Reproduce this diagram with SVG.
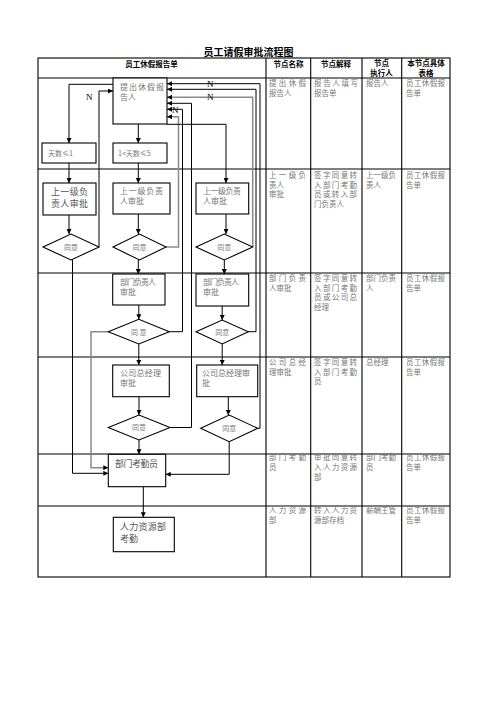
<svg xmlns="http://www.w3.org/2000/svg" width="496" height="702" viewBox="0 0 496 702">
<style>
.bg{fill:#fff}
.grid{stroke:#000;stroke-width:1.1;fill:none}
.box{fill:#fff;stroke:#000;stroke-width:1.1}
.ln{stroke:#000;stroke-width:1;fill:none}
.gl{stroke:#8a8a8a;stroke-width:1.5;fill:none}
.ttl{font-family:"Noto Sans CJK SC",sans-serif;font-weight:bold;font-size:10px;fill:#000}
.hd{font-family:"Noto Sans CJK SC",sans-serif;font-weight:bold;font-size:7.5px;fill:#000}
.t{font-family:"Noto Sans CJK SC",sans-serif;font-size:7.5px;fill:#777}
.f{font-family:"Noto Sans CJK SC",sans-serif;font-size:8px;fill:#777}
.fb{font-family:"Noto Sans CJK SC",sans-serif;font-size:9px;fill:#555}
.n{font-family:"Liberation Serif",serif;font-size:9px;fill:#000}
.c{text-anchor:middle}
</style>
<defs>
<marker id="a" viewBox="0 0 8 8" refX="8" refY="4" markerWidth="5" markerHeight="5" orient="auto" markerUnits="userSpaceOnUse">
<path d="M0,0 L8,4 L0,8 z" fill="#000"/>
</marker>
</defs>
<rect class="bg" x="0" y="0" width="496" height="702"/>
<text class="ttl c" x="248.5" y="56">员工请假审批流程图</text>

<g id="table">
<rect class="grid" x="38" y="58" width="412" height="519"/>
<path class="grid" d="M38,78 H450 M38,169 H450 M38,273 H450 M38,357 H450 M38,454 H450 M38,506 H450 M266,58 V577 M310.7,58 V577 M362,58 V577 M401.7,58 V577"/>
<text class="hd c" x="151.5" y="67">员工休假报告单</text>
<text class="hd c" x="288.5" y="67">节点名称</text>
<text class="hd c" x="336" y="67">节点解释</text>
<text class="hd c" x="381.5" y="66">节点</text>
<text class="hd c" x="381.5" y="75.5">执行人</text>
<text class="hd c" x="426" y="66">本节点具体</text>
<text class="hd c" x="426" y="75.5">表格</text>

<text class="t" x="269" y="86" textLength="37" lengthAdjust="spacing">提出休假</text>
<text class="t" x="269" y="96">报告人</text>
<text class="t" x="314" y="86" textLength="44" lengthAdjust="spacing">报告人填写</text>
<text class="t" x="314" y="96">报告单</text>
<text class="t" x="366" y="86">报告人</text>
<text class="t" x="406" y="86" textLength="39" lengthAdjust="spacing">员工休假报</text>
<text class="t" x="406" y="96">告单</text>

<text class="t" x="269" y="178" textLength="37" lengthAdjust="spacing">上一级负</text>
<text class="t" x="269" y="187.5">责人</text>
<text class="t" x="269" y="197">审批</text>
<text class="t" x="314" y="178" textLength="43" lengthAdjust="spacing">签字同意转</text>
<text class="t" x="314" y="187.5" textLength="43" lengthAdjust="spacing">入部门考勤</text>
<text class="t" x="314" y="197" textLength="43" lengthAdjust="spacing">员或转入部</text>
<text class="t" x="314" y="206.5">门负责人</text>
<text class="t" x="366" y="178" textLength="30" lengthAdjust="spacing">上一级负</text>
<text class="t" x="366" y="187.5">责人</text>
<text class="t" x="406" y="178" textLength="39" lengthAdjust="spacing">员工休假报</text>
<text class="t" x="406" y="187.5">告单</text>

<text class="t" x="269" y="280.5" textLength="37" lengthAdjust="spacing">部门负责</text>
<text class="t" x="269" y="290.5">人审批</text>
<text class="t" x="314" y="280.5" textLength="43" lengthAdjust="spacing">签字同意转</text>
<text class="t" x="314" y="290.5" textLength="43" lengthAdjust="spacing">入部门考勤</text>
<text class="t" x="314" y="300" textLength="43" lengthAdjust="spacing">员或公司总</text>
<text class="t" x="314" y="309.5">经理</text>
<text class="t" x="366" y="280.5" textLength="30" lengthAdjust="spacing">部门负责</text>
<text class="t" x="366" y="290.5">人</text>
<text class="t" x="406" y="280.5" textLength="39" lengthAdjust="spacing">员工休假报</text>
<text class="t" x="406" y="290.5">告单</text>

<text class="t" x="269" y="364.5" textLength="37" lengthAdjust="spacing">公司总经</text>
<text class="t" x="269" y="374.5">理审批</text>
<text class="t" x="314" y="364.5" textLength="43" lengthAdjust="spacing">签字同意转</text>
<text class="t" x="314" y="374.5" textLength="43" lengthAdjust="spacing">入部门考勤</text>
<text class="t" x="314" y="384">员</text>
<text class="t" x="366" y="364.5">总经理</text>
<text class="t" x="406" y="364.5" textLength="39" lengthAdjust="spacing">员工休假报</text>
<text class="t" x="406" y="374.5">告单</text>

<text class="t" x="269" y="459.5" textLength="37" lengthAdjust="spacing">部门考勤</text>
<text class="t" x="269" y="469.5">员</text>
<text class="t" x="314" y="459.5" textLength="43" lengthAdjust="spacing">审批同意转</text>
<text class="t" x="314" y="469.5" textLength="43" lengthAdjust="spacing">入人力资源</text>
<text class="t" x="314" y="479.5">部</text>
<text class="t" x="366" y="459.5" textLength="30" lengthAdjust="spacing">部门考勤</text>
<text class="t" x="366" y="469.5">员</text>
<text class="t" x="406" y="459.5" textLength="39" lengthAdjust="spacing">员工休假报</text>
<text class="t" x="406" y="469.5">告单</text>

<text class="t" x="269" y="513" textLength="37" lengthAdjust="spacing">人力资源</text>
<text class="t" x="269" y="523">部</text>
<text class="t" x="314" y="513" textLength="43" lengthAdjust="spacing">转入人力资</text>
<text class="t" x="314" y="523">源部存档</text>
<text class="t" x="366" y="513">薪酬主管</text>
<text class="t" x="406" y="513" textLength="39" lengthAdjust="spacing">员工休假报</text>
<text class="t" x="406" y="523">告单</text>
</g>

<g id="connectors">
<path class="ln" d="M138.3,124 V143" marker-end="url(#a)"/>
<path class="ln" d="M113,84.3 H69 V143" marker-end="url(#a)"/>
<path class="ln" d="M69,163 V183" marker-end="url(#a)"/>
<path class="ln" d="M69,215 V234" marker-end="url(#a)"/>
<path class="ln" d="M72.5,260 V473.3 H108.3" marker-end="url(#a)"/>
<path class="ln" d="M99,247 V91 H113" marker-end="url(#a)"/>
<path class="ln" d="M138.3,163 V183" marker-end="url(#a)"/>
<path class="ln" d="M138.3,214 V234" marker-end="url(#a)"/>
<path class="ln" d="M138.3,260 V274" marker-end="url(#a)"/>
<path class="gl" d="M166,247 H178.5 V116.7 H167" marker-end="url(#a)"/>
<path class="ln" d="M167,124.3 H226 V183" marker-end="url(#a)"/>
<path class="ln" d="M226,214 V234" marker-end="url(#a)"/>
<path class="ln" d="M224.3,260 V274" marker-end="url(#a)"/>
<path class="gl" d="M252.7,247 V97.3 H167" marker-end="url(#a)"/>
<path class="ln" d="M138.8,305 V319.3" marker-end="url(#a)"/>
<path class="ln" d="M169.3,331.7 H182.5 V109.3 H167" marker-end="url(#a)"/>
<path class="gl" d="M108.3,331.7 H91 V467.7 H108.3" marker-end="url(#a)"/>
<path class="ln" d="M138.8,344 V365" marker-end="url(#a)"/>
<path class="ln" d="M222.2,306 V320" marker-end="url(#a)"/>
<path class="ln" d="M248.3,331.7 H256 V89.3 H167" marker-end="url(#a)"/>
<path class="ln" d="M222.2,344 V365" marker-end="url(#a)"/>
<path class="ln" d="M139,396.7 V415" marker-end="url(#a)"/>
<path class="ln" d="M170,427.5 H191.5 V103.3 H167" marker-end="url(#a)"/>
<path class="ln" d="M139,440 V454.3" marker-end="url(#a)"/>
<path class="ln" d="M228.3,396.7 V415" marker-end="url(#a)"/>
<path class="ln" d="M257.7,428.3 H260 V83.7 H167" marker-end="url(#a)"/>
<path class="ln" d="M229.2,441.7 V474.3 H165.7" marker-end="url(#a)"/>
<path class="ln" d="M143.3,486.7 V517.3" marker-end="url(#a)"/>
<text class="n" x="86" y="100">N</text>
<text class="n" x="207" y="86.7">N</text>
<text class="n" x="207" y="100.3">N</text>
<text class="n" x="172" y="112.5">N</text>
</g>

<g id="n1"><rect class="box" x="113" y="78" width="54" height="46"/>
<text class="f" x="120" y="90" textLength="44" lengthAdjust="spacing">提出休假报</text>
<text class="f" x="120" y="100">告人</text></g>
<g id="n2"><rect class="box" x="42" y="143" width="54" height="20"/>
<text class="f" x="48" y="156" style="font-size:7px">天数≤1</text></g>
<g id="n3"><rect class="box" x="113" y="143" width="54" height="20"/>
<text class="f" x="118" y="156" style="font-size:7px">1&lt;天数≤5</text></g>
<g id="n4"><rect class="box" x="43" y="183" width="53" height="32"/>
<text class="fb" x="51" y="195" textLength="37" lengthAdjust="spacing">上一级负</text>
<text class="fb" x="51" y="206.5" textLength="37" lengthAdjust="spacing">责人审批</text></g>
<g id="n5"><polygon class="box" points="43,247 71,234 99,247 71,260"/>
<text class="f c" x="71" y="250" style="font-size:7px">同意</text></g>
<g id="n6"><rect class="box" x="113" y="183" width="57" height="31"/>
<text class="f" x="120" y="194" textLength="43" lengthAdjust="spacing">上一级负责</text>
<text class="f" x="120" y="204">人审批</text></g>
<g id="n7"><polygon class="box" points="113,247 139.5,234 166,247 139.5,260"/>
<text class="f c" x="139.5" y="250" style="font-size:7px">同意</text></g>
<g id="n8"><rect class="box" x="196" y="183" width="52.7" height="31"/>
<text class="f" x="203" y="194" textLength="38" lengthAdjust="spacing">上一级负责</text>
<text class="f" x="203" y="204">人审批</text></g>
<g id="n9"><polygon class="box" points="196,247 224.3,234 252.7,247 224.3,260"/>
<text class="f c" x="224.3" y="250" style="font-size:7px">同意</text></g>
<g id="n10"><rect class="box" x="112.7" y="274" width="52.3" height="31"/>
<text class="f" x="120" y="284.5" textLength="36" lengthAdjust="spacing">部门负责人</text>
<text class="f" x="120" y="294.5">审批</text></g>
<g id="n11"><polygon class="box" points="108.3,331.7 138.8,319.3 169.3,331.7 138.8,344"/>
<text class="f c" x="138.8" y="334.5" style="font-size:7px">同 意</text></g>
<g id="n12"><rect class="box" x="196" y="274" width="52.7" height="32"/>
<text class="f" x="203" y="284.5" textLength="36" lengthAdjust="spacing">部门负责人</text>
<text class="f" x="203" y="294.5">审批</text></g>
<g id="n13"><polygon class="box" points="196,331.7 222.2,320 248.3,331.7 222.2,344"/>
<text class="f c" x="222.2" y="334.5" style="font-size:7px">同意</text></g>
<g id="n14"><rect class="box" x="112.7" y="365" width="56.6" height="31.7"/>
<text class="f" x="120" y="376" textLength="41" lengthAdjust="spacing">公司总经理</text>
<text class="f" x="120" y="386">审批</text></g>
<g id="n15"><rect class="box" x="196.7" y="365" width="61" height="31.7"/>
<text class="f" x="202" y="376" textLength="48" lengthAdjust="spacing">公司总经理审</text>
<text class="f" x="202" y="386">批</text></g>
<g id="n16"><polygon class="box" points="108.3,427.5 139,415 170,427.5 139,440"/>
<text class="f c" x="139" y="430.3" style="font-size:7px">同意</text></g>
<g id="n17"><polygon class="box" points="200.7,428.3 229.2,415 257.7,428.3 229.2,441.7"/>
<text class="f c" x="229.2" y="431" style="font-size:7px">同意</text></g>
<g id="n18"><rect class="box" x="108.3" y="454.3" width="57.4" height="32.4"/>
<text class="fb" x="115" y="467" textLength="43" lengthAdjust="spacing">部门考勤员</text></g>
<g id="n19"><rect class="box" x="113.3" y="517.3" width="61" height="34.4"/>
<text class="fb" x="120" y="530" textLength="46" lengthAdjust="spacing">人力资源部</text>
<text class="fb" x="120" y="541.5">考勤</text></g>
</svg>
